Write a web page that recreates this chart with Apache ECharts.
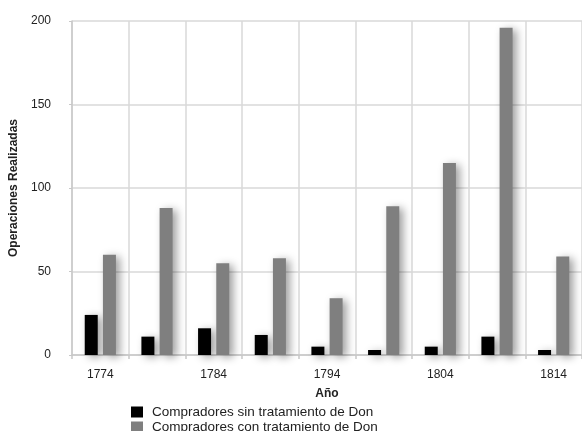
<!DOCTYPE html>
<html>
<head>
<meta charset="utf-8">
<script src="https://cdn.jsdelivr.net/npm/echarts@6/dist/echarts.min.js"></script>
<style>
  html, body { margin: 0; padding: 0; background: #fff; }
  #chart { width: 582px; height: 431px; }
</style>
</head>
<body>
<div id="chart"></div>
<script>
// years (only every other one gets a label)
var years = ['1774', '1779', '1784', '1789', '1794', '1799', '1804', '1809', '1814'];
var sinDon = [24, 11, 16, 12, 5, 3, 5, 11, 3];
var conDon = [60, 88, 55, 58, 34, 89, 115, 196, 59];
var yTicks = [0, 50, 100, 150, 200];
var seriesNames = ['Compradores sin tratamiento de Don', 'Compradores con tratamiento de Don'];

var chart = echarts.init(document.getElementById('chart'));

var barShadow = {
  shadowBlur: 8,
  shadowOffsetX: 4,
  shadowOffsetY: 2,
  shadowColor: 'rgba(0,0,0,0.38)'
};

// one legend per row, the box is too short for a vertical legend to fit
function legendRow(name, top) {
  return {
    orient: 'vertical',
    left: 131,
    top: top,
    padding: 0,
    icon: 'rect',
    itemWidth: 12,
    itemHeight: 11,
    itemGap: 0,
    textStyle: { fontSize: 13.5, color: '#222', padding: [0, 0, 0, 4] },
    data: [name]
  };
}

var option = {
  animation: false,
  textStyle: { fontFamily: 'Liberation Sans, Arial, sans-serif' },
  legend: [legendRow(seriesNames[0], 405), legendRow(seriesNames[1], 420)],
  grid: {
    left: 72,
    right: 0,
    top: 21,
    bottom: 76
  },
  xAxis: {
    type: 'category',
    data: years,
    name: 'Año',
    nameLocation: 'middle',
    nameGap: 33,
    nameTextStyle: { fontWeight: 'bold', fontSize: 12, color: '#222' },
    axisLine: { lineStyle: { color: '#c8c8c8', width: 1.5 } },
    axisTick: { show: true, interval: 0, length: 4, lineStyle: { color: '#c8c8c8', width: 1.5 } },
    axisLabel: { interval: 1, margin: 14, fontSize: 12, color: '#222' },
    splitLine: { show: true, interval: 0, lineStyle: { color: '#d9d9d9', width: 1.5 } }
  },
  yAxis: {
    type: 'value',
    min: yTicks[0],
    max: yTicks[yTicks.length - 1],
    interval: 50,
    name: 'Operaciones Realizadas',
    nameLocation: 'middle',
    nameGap: 49,
    nameTextStyle: { fontWeight: 'bold', fontSize: 12, color: '#222' },
    axisLine: { show: true, lineStyle: { color: '#c8c8c8', width: 1.5 } },
    axisTick: { show: true, length: 3, lineStyle: { color: '#c8c8c8' } },
    axisLabel: { margin: 21, fontSize: 12, color: '#222' },
    splitLine: { show: true, lineStyle: { color: '#d9d9d9', width: 1.5 } }
  },
  series: [
    {
      name: seriesNames[0],
      type: 'bar',
      barWidth: 13,
      barGap: '40%',
      itemStyle: Object.assign({ color: '#000' }, barShadow),
      data: sinDon
    },
    {
      name: seriesNames[1],
      type: 'bar',
      barWidth: 13,
      barGap: '40%',
      itemStyle: Object.assign({ color: '#7f7f7f' }, barShadow),
      data: conDon
    }
  ]
};

chart.setOption(option);
</script>
</body>
</html>
